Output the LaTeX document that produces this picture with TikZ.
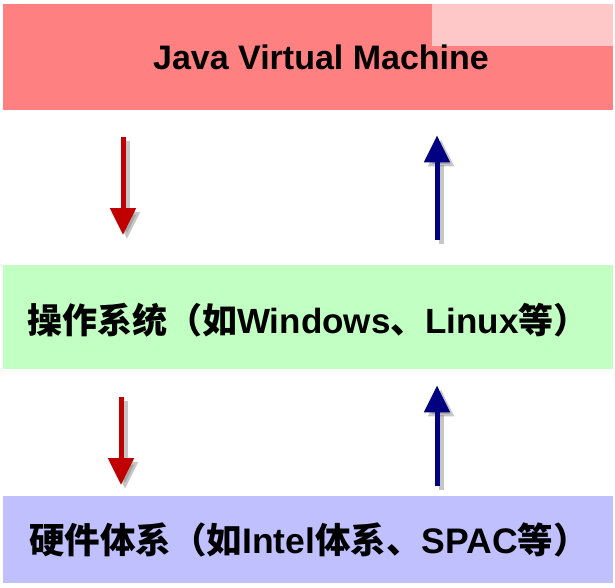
\documentclass[tikz,border=0pt]{standalone}
\usepackage{fontspec}
\setmainfont{Liberation Sans}
\newfontfamily\cjk{Noto Sans CJK SC Bold}
\usetikzlibrary{arrows.meta,calc}
\definecolor{jvmred}{HTML}{FF8080}
\definecolor{jvmpale}{HTML}{FFC8C8}
\definecolor{osgreen}{HTML}{C2FFC2}
\definecolor{hwblue}{HTML}{C0C0FF}
\definecolor{arrred}{HTML}{C00000}
\definecolor{arrblue}{HTML}{000080}
\begin{document}
\begin{tikzpicture}[x=1pt,y=-1pt,
  layerbox/.style={draw=none,rectangle,minimum width=610pt,inner sep=0pt},
  layertext/.style={font=\bfseries\fontsize{35}{38}\selectfont,text=black},
  arr/.style={line width=5pt,-{Triangle[width=25pt,length=27pt]}},
  shadowarr/.style={arr,draw=black!50,opacity=0.45,transform canvas={shift={(4pt,-4pt)}}}]
\useasboundingbox (0,0) rectangle (615,587);
% boxes
\node[layerbox,fill=jvmred,minimum height=106pt,anchor=north west] (jvm) at (3,4) {};
\fill[jvmpale] (432,4) rectangle (613,46);
\node[layerbox,fill=osgreen,minimum height=104pt,anchor=north west] (os) at (3,265) {};
\node[layerbox,fill=hwblue,minimum height=87pt,anchor=north west] (hw) at (3,496) {};
% texts
\node[layertext,font=\bfseries\fontsize{34}{38}\selectfont] (jvmt) at (321,57) {Java Virtual Machine};
\node[layertext] (ost) at (308,320) {{\cjk 操作系统（如}Windows{\cjk 、}Linux{\cjk 等）}};
\node[layertext,font=\bfseries\fontsize{35.5}{38}\selectfont] (hwt) at (309,540) {{\cjk 硬件体系（如}Intel{\cjk 体系、}SPAC{\cjk 等）}};
% arrow columns
\coordinate (cr1) at (123,0);
\coordinate (cr2) at (121,0);
\coordinate (cb) at (437,0);
% shadows
\draw[shadowarr,shorten <=27pt,shorten >=30pt] (jvm.south -| cr1) -- (os.north -| cr1);
\draw[shadowarr,shorten <=25pt,shorten >=25pt] (os.north -| cb) -- (jvm.south -| cb);
\draw[shadowarr,shorten <=28pt,shorten >=11pt] (os.south -| cr2) -- (hw.north -| cr2);
\draw[shadowarr,shorten <=10pt,shorten >=16pt] (hw.north -| cb) -- (os.south -| cb);
% arrows
\draw[arr,draw=arrred,shorten <=27pt,shorten >=30pt] (jvm.south -| cr1) -- (os.north -| cr1);
\draw[arr,draw=arrblue,shorten <=25pt,shorten >=25pt] (os.north -| cb) -- (jvm.south -| cb);
\draw[arr,draw=arrred,shorten <=28pt,shorten >=11pt] (os.south -| cr2) -- (hw.north -| cr2);
\draw[arr,draw=arrblue,shorten <=10pt,shorten >=16pt] (hw.north -| cb) -- (os.south -| cb);
\end{tikzpicture}
\end{document}
